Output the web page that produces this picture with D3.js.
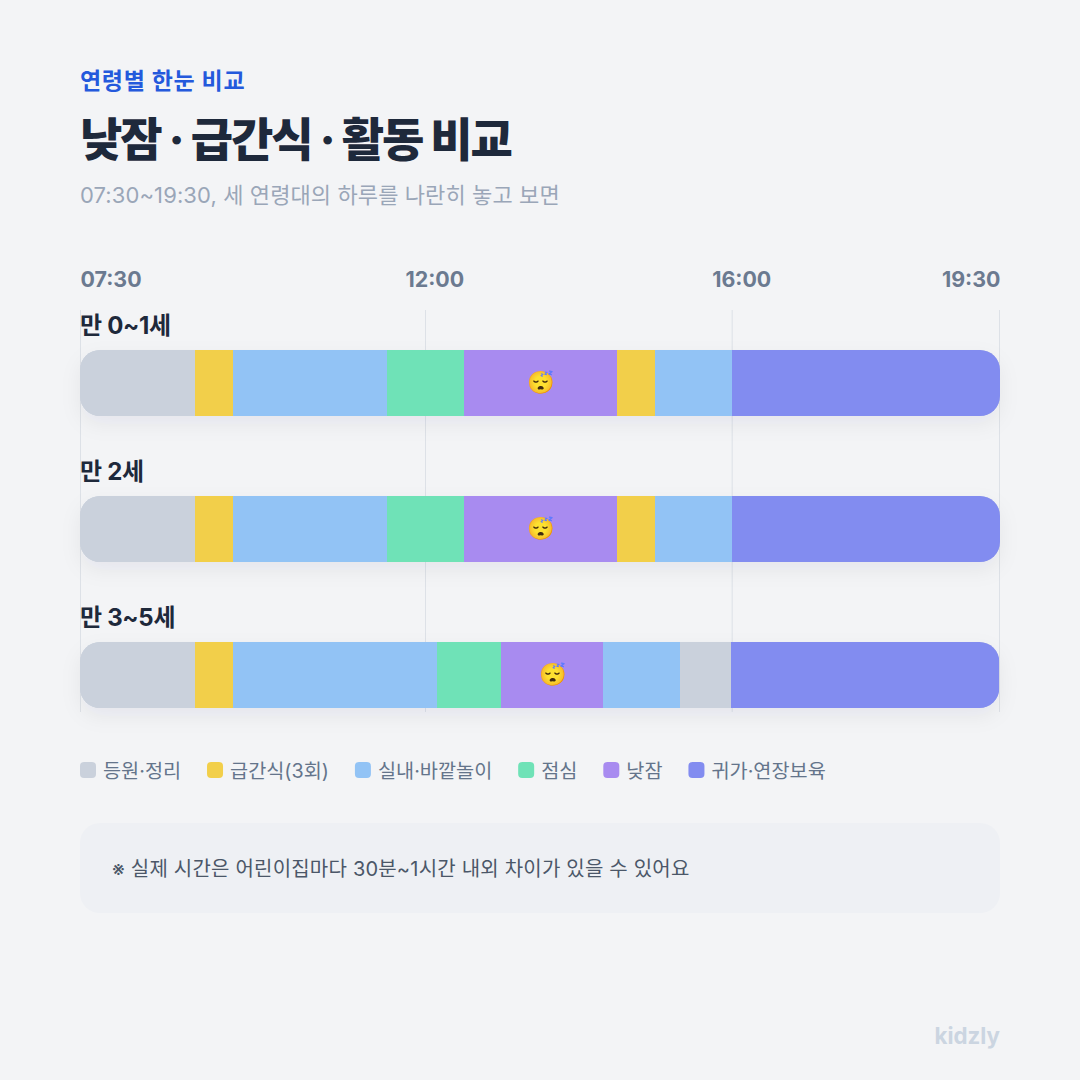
<!DOCTYPE html>
<html lang="ko">
<head>
<meta charset="utf-8">
<script src="https://cdnjs.cloudflare.com/ajax/libs/d3/7.8.4/d3.min.js"></script>
<style>
  html, body { margin: 0; padding: 0; background: #f3f4f6; }
  svg { display: block; }
  text { font-family: Inter, "Noto Sans CJK KR", "Noto Color Emoji", sans-serif; }
</style>
</head>
<body>
<div id="chart"></div>
<script>
// activities
const activities = ["등원·정리", "급간식(3회)", "실내·바깥놀이", "점심", "낮잠", "귀가·연장보육"];
const activityColors = ["#cad1dc", "#f2cf4a", "#92c3f5", "#6fe2b7", "#a88bf0", "#828cf0"];

// rows
const ages = ["만 0~1세", "만 2세", "만 3~5세"];
const row0Activities = [0, 1, 2, 3, 4, 1, 2, 5];
const row0Minutes = [90, 30, 120, 60.5, 119.5, 30, 60, 210];
const row1Activities = [0, 1, 2, 3, 4, 1, 2, 5];
const row1Minutes = [90, 30, 120, 60.5, 119.5, 30, 60, 210];
const row2Activities = [0, 1, 2, 3, 4, 2, 0, 5];
const row2Minutes = [90, 30, 159.5, 50, 80, 60, 40, 210];
const rowActivities = [row0Activities, row1Activities, row2Activities];
const rowMinutes = [row0Minutes, row1Minutes, row2Minutes];

// time axis, in minutes after 07:30
const tickMinutes = [0, 270, 510, 720];
const tickLabels = ["07:30", "12:00", "16:00", "19:30"];
const napActivity = 4;

const width = 1080, height = 1080;

const svg = d3.select("#chart").append("svg")
  .attr("width", width)
  .attr("height", height);

svg.append("rect").attr("width", width).attr("height", height).attr("fill", "#f3f4f6");

// soft shadow under the bars
const shadow = svg.append("defs").append("filter")
  .attr("id", "barShadow")
  .attr("x", "-5%").attr("y", "-40%").attr("width", "110%").attr("height", "220%");
shadow.append("feDropShadow")
  .attr("dx", 0).attr("dy", 8).attr("stdDeviation", 10)
  .attr("flood-color", "#1e293b").attr("flood-opacity", 0.06);

// header
svg.append("text").attr("x", 80).attr("y", 89)
  .attr("font-size", 23).attr("font-weight", 700).attr("fill", "#2459dc")
  .attr("letter-spacing", "0.7px")
  .text("연령별 한눈 비교");
svg.append("text").attr("x", 80).attr("y", 156)
  .attr("font-size", 46).attr("font-weight", 800).attr("fill", "#1e293b")
  .attr("letter-spacing", "-2.05px")
  .text("낮잠 · 급간식 · 활동 비교");
svg.append("text").attr("x", 80).attr("y", 203)
  .attr("font-size", 22).attr("font-weight", 400).attr("fill", "#9aa6b8")
  .attr("letter-spacing", "0.1px")
  .text("07:30~19:30, 세 연령대의 하루를 나란히 놓고 보면");

const x = d3.scaleLinear().domain([0, 720]).range([80, 1000]);
const y = d3.scaleBand().domain(ages).range([310, 748]).paddingInner(0);
const barTop = 40, barHeight = 66;

// gridlines and time labels
const axis = svg.append("g")
  .attr("transform", "translate(0,310)")
  .call(d3.axisBottom(x)
    .tickValues(tickMinutes)
    .tickSize(402)
    .tickFormat((d, i) => tickLabels[i]));
axis.select(".domain").remove();
axis.selectAll(".tick line").attr("stroke", "#dde1e7");
axis.selectAll(".tick:last-of-type line").attr("transform", "translate(-1,0)");
axis.selectAll(".tick text")
  .attr("y", -23)
  .attr("dy", 0)
  .attr("fill", "#6b7a90")
  .attr("font-size", 21.4)
  .attr("font-weight", 700)
  .attr("font-family", null)
  .attr("text-anchor", (d, i) => i === tickLabels.length - 1 ? "end" : "start")
  .attr("dx", (d, i) => i === 0 || i === tickLabels.length - 1 ? 0 : -20);

// one row per age group
const rows = svg.selectAll("g.row")
  .data(ages)
  .join("g")
  .attr("class", "row")
  .attr("transform", d => `translate(0,${y(d)})`);

rows.append("text")
  .attr("x", 80).attr("y", 24)
  .attr("font-size", 24).attr("font-weight", 700).attr("fill", "#1e293b")
  .attr("letter-spacing", "-0.3px")
  .text(d => d);

const segmentsFor = i => {
  let t = 0;
  return rowMinutes[i].map((m, j) => {
    const seg = { activity: rowActivities[i][j], start: t, end: t + m };
    t += m;
    return seg;
  });
};

rows.each(function (age, i) {
  const row = d3.select(this);
  const segs = segmentsFor(i);
  const last = segs[segs.length - 1].end;

  const clipId = "rowClip" + i;
  svg.select("defs").append("clipPath").attr("id", clipId)
    .append("rect")
    .attr("x", x(0)).attr("y", barTop)
    .attr("width", x(last) - x(0)).attr("height", barHeight)
    .attr("rx", 20);

  // shadow shape
  row.append("rect")
    .attr("x", x(0)).attr("y", barTop)
    .attr("width", x(last) - x(0)).attr("height", barHeight)
    .attr("rx", 20)
    .attr("fill", "#cad1dc")
    .attr("filter", "url(#barShadow)");

  row.append("g").attr("clip-path", `url(#${clipId})`)
    .selectAll("rect")
    .data(segs)
    .join("rect")
    .attr("x", d => x(d.start))
    .attr("y", barTop)
    .attr("width", d => x(d.end) - x(d.start))
    .attr("height", barHeight)
    .attr("shape-rendering", "crispEdges")
    .attr("fill", d => activityColors[d.activity]);

  row.selectAll("text.nap")
    .data(segs.filter(d => d.activity === napActivity))
    .join("text")
    .attr("class", "nap")
    .attr("x", d => (x(d.start) + x(d.end)) / 2 + 0.5)
    .attr("y", barTop + barHeight / 2 + 7)
    .attr("text-anchor", "middle")
    .attr("font-size", 22)
    .text("😴");
});

// legend
const legend = svg.append("g").attr("transform", "translate(0,762)");
let legendX = 80;
activities.forEach((name, i) => {
  legend.append("rect")
    .attr("x", legendX).attr("y", 0)
    .attr("width", 16).attr("height", 16).attr("rx", 4)
    .attr("fill", activityColors[i]);
  const label = legend.append("text")
    .attr("x", legendX + 23).attr("y", 15.5)
    .attr("font-size", 19.7).attr("fill", "#64748b")
    .text(name);
  legendX += 23 + label.node().getComputedTextLength() + 25.9;
});

// note box
svg.append("rect")
  .attr("x", 80).attr("y", 823)
  .attr("width", 920).attr("height", 90).attr("rx", 20)
  .attr("fill", "#eef0f4");
svg.append("text").attr("x", 112).attr("y", 876)
  .attr("font-size", 20).attr("fill", "#4b5768")
  .attr("letter-spacing", "0.2px")
  .text("※ 실제 시간은 어린이집마다 30분~1시간 내외 차이가 있을 수 있어요");

// brand
svg.append("text").attr("x", 1000).attr("y", 1044)
  .attr("text-anchor", "end")
  .attr("font-size", 22.3).attr("font-weight", 700).attr("fill", "#cbd5e1")
  .text("kidzly");
</script>
</body>
</html>
